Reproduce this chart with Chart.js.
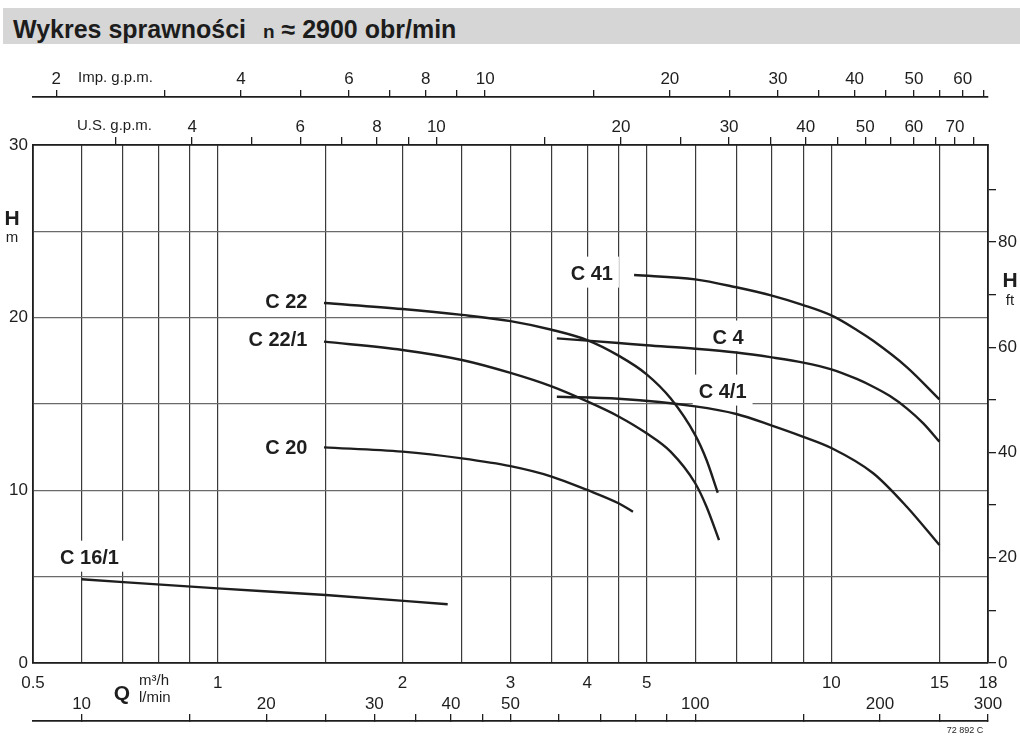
<!DOCTYPE html>
<html>
<head>
<meta charset="utf-8">
<script src="https://cdn.jsdelivr.net/npm/chart.js@4.4.1/dist/chart.umd.min.js"></script>
<style>
  html, body { margin: 0; padding: 0; background: #fff; }
  #wrap { position: relative; width: 1020px; height: 736px; overflow: hidden; }
  canvas { position: absolute; left: 0; top: 0; }
  #title {
    position: absolute; left: 3px; top: 8px; width: 1017px; height: 36px;
    background: #d6d6d6; color: #1c1c1c; box-sizing: border-box; padding-left: 10px;
    font: bold 25px "Liberation Sans", Arial, sans-serif; line-height: 42px; white-space: nowrap;
  }
  #title small { font-size: 19px; margin-left: 10px; }
</style>
</head>
<body>
<div id="wrap">
  <canvas id="chart" width="1020" height="736"></canvas>
  <div id="title">Wykres sprawności <small>n</small> ≈ 2900 obr/min</div>
</div>
<script>
// unit conversions from m3/h and m
const M3H_TO_LMIN = 1000 / 60;
const M3H_TO_USGPM = 1000 / 3.785411784 / 60;
const M3H_TO_IMPGPM = 1000 / 4.54609 / 60;
const M_TO_FT = 1 / 0.3048;

const qMin = 0.5, qMax = 18;
const hMin = 0, hMax = 30;

// axis ticks
const qTicks = [0.5, 0.6, 0.7, 0.8, 0.9, 1, 1.5, 2, 2.5, 3, 3.5, 4, 4.5, 5, 6, 7, 8, 9, 10, 15, 18];
const qLabels = [0.5, 1, 2, 3, 4, 5, 10, 15, 18];
const hTicks = [0, 5, 10, 15, 20, 25, 30];
const hLabels = [0, 10, 20, 30];
const ftTicks = [0, 10, 20, 30, 40, 50, 60, 70, 80, 90];
const ftLabels = [0, 20, 40, 60, 80];
const lminTicks = [10, 15, 20, 25, 30, 35, 40, 45, 50, 60, 70, 80, 90, 100, 150, 200, 250, 300];
const lminLabels = [10, 20, 30, 40, 50, 100, 200, 300];
const usTicks = [3, 4, 5, 6, 7, 8, 9, 10, 15, 20, 25, 30, 35, 40, 45, 50, 55, 60, 65, 70, 75];
const usLabels = [4, 6, 8, 10, 20, 30, 40, 50, 60, 70];
const impTicks = [2, 3, 4, 5, 6, 7, 8, 9, 10, 15, 20, 25, 30, 35, 40, 45, 50, 55, 60, 65];
const impLabels = [2, 4, 6, 8, 10, 20, 30, 40, 50, 60];

// pump curves: Q in m3/h, H in m
const c16_1Q = [0.6, 1.0, 1.5, 2.37];
const c16_1H = [4.85, 4.32, 3.94, 3.40];
const c20Q = [1.49, 2.0, 2.5, 3.0, 3.5, 4.0, 4.5, 4.75];
const c20H = [12.49, 12.24, 11.85, 11.4, 10.8, 10.02, 9.25, 8.76];
const c22Q = [1.49, 2.0, 2.5, 3.0, 3.5, 4.0, 4.5, 5.0, 5.47, 6.0, 6.26, 6.53];
const c22H = [20.85, 20.5, 20.16, 19.8, 19.3, 18.7, 17.8, 16.72, 15.33, 13.2, 11.76, 9.86];
const c22_1Q = [1.49, 2.0, 2.5, 3.0, 3.5, 4.0, 4.5, 5.0, 5.47, 6.0, 6.26, 6.56];
const c22_1H = [18.61, 18.13, 17.55, 16.8, 16.02, 15.15, 14.28, 13.3, 12.24, 10.41, 9.05, 7.12];
const c41Q = [4.77, 6.0, 7.0, 8.0, 9.0, 10.0, 11.0, 11.7, 13.27, 15.0];
const c41H = [22.47, 22.22, 21.76, 21.28, 20.73, 20.13, 19.29, 18.66, 17.14, 15.27];
const c4Q = [3.57, 4.0, 4.5, 5.0, 6.0, 7.0, 8.0, 9.0, 10.0, 11.0, 11.7, 12.46, 13.27, 14.12, 15.0];
const c4H = [18.8, 18.67, 18.53, 18.4, 18.2, 17.98, 17.7, 17.4, 17.01, 16.45, 16.0, 15.46, 14.75, 13.88, 12.82];
const c4_1Q = [3.57, 4.5, 6.0, 7.0, 8.0, 9.0, 10.0, 11.7, 13.27, 15.0];
const c4_1H = [15.42, 15.3, 14.86, 14.42, 13.75, 13.1, 12.45, 10.99, 9.05, 6.83];

const curves = [
  ['C 16/1', c16_1Q, c16_1H],
  ['C 20', c20Q, c20H],
  ['C 22', c22Q, c22H],
  ['C 22/1', c22_1Q, c22_1H],
  ['C 41', c41Q, c41H],
  ['C 4', c4Q, c4H],
  ['C 4/1', c4_1Q, c4_1H]
];

// curve names, anchored in chart units
const curveLabels = [
  { text: 'C 22', q: 1.4, h: 20.95, align: 'right' },
  { text: 'C 22/1', q: 1.4, h: 18.76, align: 'right' },
  { text: 'C 20', q: 1.4, h: 12.5, align: 'right' },
  { text: 'C 16/1', q: 0.618, h: 6.1, align: 'center' },
  { text: 'C 41', q: 4.07, h: 22.55, align: 'center' },
  { text: 'C 4', q: 6.79, h: 18.85, align: 'center' },
  { text: 'C 4/1', q: 6.65, h: 15.72, align: 'center' }
];

const FONT = '"Liberation Sans", Arial, sans-serif';
const INK = '#1e1e1e';
Chart.defaults.font.family = FONT;
Chart.defaults.font.size = 17;
Chart.defaults.color = INK;

function fixedTicks(values) {
  return function (scale) { scale.ticks = values.map(v => ({ value: v })); };
}
function labelOnly(list) {
  return function (v) { return list.indexOf(v) >= 0 ? String(v) : ''; };
}

const annotate = {
  id: 'annotate',
  beforeDatasetsDraw(chart) {
    const { ctx, scales } = chart;
    ctx.save();
    ctx.font = 'bold 20px ' + FONT;
    ctx.fillStyle = '#fff';
    curveLabels.forEach(l => {
      const w = ctx.measureText(l.text).width;
      const px = scales.x.getPixelForValue(l.q);
      const py = scales.y.getPixelForValue(l.h);
      const left = l.align === 'right' ? px - w : px - w / 2;
      ctx.fillRect(left - 6, py - 17, w + 12, 31);
    });
    ctx.restore();
  },
  afterDatasetsDraw(chart) {
    const { ctx, scales } = chart;
    ctx.save();
    ctx.fillStyle = INK;
    ctx.textBaseline = 'middle';
    ctx.font = 'bold 20px ' + FONT;
    curveLabels.forEach(l => {
      const w = ctx.measureText(l.text).width;
      const px = scales.x.getPixelForValue(l.q);
      const py = scales.y.getPixelForValue(l.h);
      const left = l.align === 'right' ? px - w : px - w / 2;
      ctx.textAlign = 'left';
      ctx.fillText(l.text, left, py + 1);
    });

    // axis names
    ctx.textAlign = 'left';
    ctx.font = '15px ' + FONT;
    ctx.fillText('Imp. g.p.m.', 78, 78);
    ctx.fillText('U.S. g.p.m.', 77, 126);
    ctx.fillText('m³/h', 139, 681);
    ctx.fillText('l/min', 139, 698);

    ctx.textAlign = 'center';
    ctx.font = 'bold 21px ' + FONT;
    ctx.fillText('H', 12, 219);
    ctx.fillText('H', 1010, 281);
    ctx.fillText('Q', 122, 694);
    ctx.font = '15px ' + FONT;
    ctx.fillText('m', 12, 238);
    ctx.fillText('ft', 1010, 301);

    ctx.font = '9px ' + FONT;
    ctx.fillText('72 892 C', 965, 731);
    ctx.restore();
  }
};

new Chart(document.getElementById('chart'), {
  type: 'line',
  data: {
    datasets: curves.map(c => ({
      label: c[0],
      data: c[1].map((q, i) => ({ x: q, y: c[2][i] })),
      borderColor: INK,
      borderWidth: 2.4,
      pointRadius: 0,
      fill: false,
      cubicInterpolationMode: 'monotone'
    }))
  },
  options: {
    responsive: false,
    animation: false,
    events: [],
    layout: { padding: { top: 67, left: 0, right: 0, bottom: 0 } },
    plugins: { legend: { display: false }, tooltip: { enabled: false } },
    scales: {
      x: {
        type: 'logarithmic', position: 'bottom', weight: 0,
        min: qMin, max: qMax,
        afterBuildTicks: fixedTicks(qTicks),
        afterFit: s => { s.height = 58; },
        grid: { color: '#3a3a3a', lineWidth: 1.2, drawTicks: false },
        border: { color: INK, width: 1.8 },
        ticks: { autoSkip: false, maxRotation: 0, padding: 10, callback: labelOnly(qLabels) }
      },
      xLmin: {
        axis: 'x', type: 'logarithmic', position: 'bottom', weight: 1,
        min: qMin * M3H_TO_LMIN, max: qMax * M3H_TO_LMIN,
        afterBuildTicks: fixedTicks(lminTicks),
        afterFit: s => { s.height = 15; },
        grid: { drawOnChartArea: false, tickLength: -7, color: INK, lineWidth: 1.3 },
        border: { color: INK, width: 1.8 },
        ticks: { autoSkip: false, maxRotation: 0, mirror: true, padding: 6, callback: labelOnly(lminLabels) }
      },
      xUs: {
        axis: 'x', type: 'logarithmic', position: 'top', weight: 1,
        min: qMin * M3H_TO_USGPM, max: qMax * M3H_TO_USGPM,
        afterBuildTicks: fixedTicks(usTicks),
        afterFit: s => { s.height = 48; },
        grid: { drawOnChartArea: false, tickLength: 8, color: INK, lineWidth: 1.3 },
        border: { color: INK, width: 1.8 },
        ticks: { autoSkip: false, maxRotation: 0, padding: -1, callback: labelOnly(usLabels) }
      },
      xImp: {
        axis: 'x', type: 'logarithmic', position: 'top', weight: 2,
        min: qMin * M3H_TO_IMPGPM, max: qMax * M3H_TO_IMPGPM,
        afterBuildTicks: fixedTicks(impTicks),
        afterFit: s => { s.height = 30; },
        grid: { drawOnChartArea: false, tickLength: 7, color: INK, lineWidth: 1.3 },
        border: { color: INK, width: 1.8 },
        ticks: { autoSkip: false, maxRotation: 0, padding: 0, callback: labelOnly(impLabels) }
      },
      y: {
        type: 'linear', position: 'left',
        min: hMin, max: hMax,
        afterBuildTicks: fixedTicks(hTicks),
        afterFit: s => { s.width = 33; },
        grid: { color: '#6a6a6a', lineWidth: 1.3, drawTicks: false },
        border: { color: INK, width: 1.8 },
        ticks: { padding: 5, callback: labelOnly(hLabels) }
      },
      y2: {
        axis: 'y', type: 'linear', position: 'right',
        min: hMin * M_TO_FT, max: hMax * M_TO_FT,
        afterBuildTicks: fixedTicks(ftTicks),
        afterFit: s => { s.width = 32; },
        grid: { drawOnChartArea: false, tickLength: 8, color: INK, lineWidth: 1.3 },
        border: { color: INK, width: 1.8 },
        ticks: { padding: 2, callback: labelOnly(ftLabels) }
      }
    }
  },
  plugins: [annotate]
});
</script>
</body>
</html>
